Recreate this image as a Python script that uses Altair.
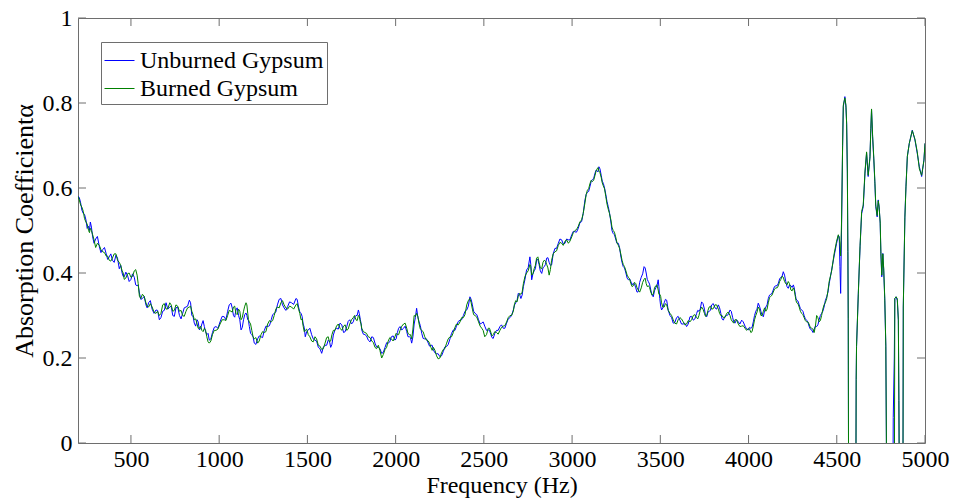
import altair as alt
import pandas as pd

FREQ = [
    200, 215, 230, 245, 260, 270, 283, 300, 321, 340,
    360, 377, 395, 415, 434, 450, 462, 480, 500, 519,
    535, 548, 565, 585, 600, 620, 642, 661, 680, 699,
    720, 737, 755, 775, 793, 812, 831, 845, 859, 875,
    888, 902, 916, 930, 944, 962, 982, 1005, 1029, 1048,
    1067, 1081, 1095, 1110, 1124, 1138, 1152, 1162, 1171, 1185,
    1199, 1218, 1237, 1256, 1275, 1295, 1312, 1330, 1350, 1368,
    1388, 1410, 1435, 1450, 1464, 1476, 1488, 1505, 1524, 1543,
    1562, 1581, 1600, 1618, 1632, 1647, 1665, 1685, 1705, 1723,
    1740, 1760, 1775, 1789, 1800, 1808, 1826, 1845, 1865, 1883,
    1902, 1921, 1940, 1958, 1976, 1996, 2010, 2025, 2045, 2063,
    2078, 2091, 2105, 2119, 2133, 2148, 2165, 2185, 2200, 2214,
    2232, 2251, 2270, 2289, 2308, 2327, 2345, 2365, 2384, 2403,
    2421, 2435, 2450, 2470, 2488, 2505, 2525, 2540, 2553, 2572,
    2591, 2610, 2629, 2648, 2667, 2681, 2695, 2710, 2724, 2742,
    2761, 2771, 2785, 2799, 2813, 2828, 2842, 2856, 2870, 2884,
    2903, 2922, 2941, 2960, 2979, 2998, 3016, 3035, 3054, 3073,
    3087, 3101, 3115, 3130, 3142, 3152, 3165, 3177, 3191, 3205,
    3220, 3233, 3247, 3262, 3276, 3290, 3305, 3319, 3333, 3347,
    3361, 3375, 3392, 3408, 3420, 3432, 3446, 3460, 3474, 3488,
    3497, 3507, 3522, 3536, 3555, 3573, 3592, 3611, 3630, 3649,
    3668, 3687, 3706, 3719, 3734, 3750, 3763, 3777, 3791, 3810,
    3829, 3843, 3857, 3876, 3895, 3910, 3923, 3942, 3961, 3980,
    3999, 4013, 4027, 4041, 4055, 4070, 4084, 4098, 4112, 4126,
    4140, 4155, 4169, 4183, 4197, 4211, 4225, 4240, 4254, 4265,
    4273, 4287, 4301, 4315, 4329, 4343, 4358, 4372, 4386, 4400,
    4414, 4428, 4443, 4457, 4471, 4485, 4499, 4509, 4514, 4518,
    4522, 4527, 4533, 4537, 4546, 4552, 4556, 4560, 4563, 4565,
    4567, 4585, 4606, 4610, 4612, 4622, 4632, 4641, 4650, 4660,
    4669, 4678, 4688, 4693, 4697, 4703, 4710, 4716, 4721, 4729,
    4735, 4740, 4746, 4750, 4755, 4761, 4766, 4772, 4778, 4782,
    4795, 4815, 4820, 4826, 4829, 4836, 4843, 4849, 4852, 4854,
    4865, 4874, 4877, 4886, 4892, 4900, 4911, 4928, 4943, 4956,
    4968, 4981, 4994, 5000,
]

UNBURNED = [
    .580, .565, .540, .525, .510, .520, .485, .480, .462, .455,
    .445, .438, .430, .442, .410, .400, .391, .395, .385, .390,
    .370, .353, .340, .325, .330, .315, .313, .290, .310, .330,
    .320, .300, .318, .300, .305, .320, .336, .300, .282, .290,
    .266, .280, .274, .255, .242, .260, .274, .285, .297, .310,
    .329, .300, .313, .300, .266, .290, .306, .290, .274, .255,
    .235, .245, .250, .265, .274, .290, .305, .325, .340, .318,
    .321, .330, .340, .320, .305, .280, .250, .266, .255, .242,
    .225, .211, .230, .242, .225, .254, .270, .282, .260, .274,
    .290, .285, .300, .313, .290, .266, .255, .242, .250, .235,
    .225, .211, .225, .235, .250, .242, .260, .274, .270, .262,
    .250, .235, .280, .317, .285, .258, .245, .235, .230, .219,
    .210, .203, .215, .227, .245, .266, .275, .289, .300, .313,
    .344, .325, .305, .290, .282, .275, .266, .255, .246, .265,
    .274, .270, .282, .295, .313, .330, .352, .340, .368, .407,
    .438, .384, .405, .431, .420, .399, .415, .435, .425, .419,
    .458, .470, .478, .470, .478, .490, .497, .505, .521, .572,
    .590, .603, .620, .635, .640, .650, .630, .611, .585, .556,
    .520, .493, .480, .470, .440, .415, .400, .384, .380, .376,
    .365, .356, .390, .415, .400, .380, .360, .344, .365, .384,
    .340, .313, .330, .336, .300, .282, .295, .289, .280, .274,
    .297, .289, .305, .310, .332, .315, .297, .310, .325, .318,
    .325, .305, .289, .300, .313, .295, .282, .285, .289, .275,
    .266, .270, .285, .310, .329, .310, .297, .320, .340, .350,
    .360, .370, .376, .390, .403, .380, .364, .370, .372, .350,
    .336, .325, .313, .300, .289, .275, .266, .268, .274, .290,
    .305, .320, .344, .375, .407, .440, .470, .489, .485, .415,
    .352, .501, .697, .791, .815, .790, .752, .635, .450, .293,
    -.100, -.500, -.400, .150, .227, .352, .462, .540, .556, .635,
    .682, .627, .674, .736, .784, .721, .666, .611, .556, .532,
    .572, .556, .517, .446, .391, .446, .407, .336, .227, -.050,
    -.500, -.400, .060, .200, .340, .344, .336, .289, .100, -.050,
    -.500, -.300, .320, .532, .603, .674, .705, .736, .713, .682,
    .650, .627, .666, .705,
]

BURNED = [
    .580, .560, .545, .520, .500, .505, .490, .460, .465, .450,
    .440, .430, .435, .445, .425, .405, .385, .398, .390, .405,
    .395, .345, .350, .330, .320, .320, .305, .300, .325, .315,
    .330, .310, .325, .310, .300, .310, .320, .310, .290, .280,
    .270, .265, .270, .250, .235, .255, .265, .280, .290, .300,
    .310, .320, .305, .315, .290, .310, .330, .305, .285, .265,
    .245, .235, .255, .260, .280, .285, .300, .320, .330, .325,
    .315, .320, .325, .315, .290, .275, .265, .255, .240, .250,
    .230, .220, .235, .250, .240, .265, .275, .270, .275, .265,
    .280, .295, .290, .300, .285, .270, .260, .250, .240, .225,
    .230, .200, .220, .240, .245, .250, .255, .265, .280, .270,
    .255, .245, .300, .305, .280, .265, .250, .240, .225, .225,
    .205, .200, .220, .235, .250, .260, .280, .285, .295, .325,
    .340, .315, .300, .285, .270, .250, .270, .260, .255, .260,
    .265, .275, .285, .300, .310, .335, .345, .350, .375, .400,
    .420, .395, .410, .435, .425, .410, .430, .420, .395, .430,
    .450, .465, .470, .475, .470, .485, .500, .510, .525, .565,
    .595, .610, .615, .630, .645, .640, .625, .605, .580, .550,
    .525, .500, .485, .465, .445, .420, .405, .390, .375, .370,
    .375, .360, .365, .385, .375, .370, .355, .350, .370, .360,
    .350, .330, .320, .325, .305, .290, .280, .295, .285, .280,
    .285, .300, .295, .300, .320, .305, .300, .320, .315, .325,
    .315, .300, .295, .305, .300, .285, .290, .280, .275, .270,
    .270, .260, .275, .300, .320, .300, .310, .310, .330, .345,
    .355, .365, .370, .385, .390, .375, .380, .360, .365, .345,
    .330, .320, .305, .295, .285, .280, .270, .260, .300, .285,
    .300, .325, .340, .380, .405, .445, .475, .490, .480, .470,
    .440, .520, .700, .795, .812, .795, .750, .640, .450, .290,
    -.100, -.500, -.400, .150, .227, .350, .465, .545, .560, .640,
    .685, .630, .670, .740, .786, .725, .670, .615, .560, .535,
    .570, .555, .520, .450, .395, .445, .410, .340, .230, -.050,
    -.500, -.400, -.300, -.200, .340, .344, .340, .290, .100, -.050,
    -.500, -.300, .320, .530, .600, .675, .705, .735, .715, .685,
    .645, .630, .665, .705,
]

# extra in-between samples read from the fine ripple of the noisy part
FREQ_MID = [
    207, 222, 237, 252, 265, 276, 291, 310, 330, 350,
    368, 386, 405, 424, 442, 456, 471, 490, 509, 527,
    541, 556, 575, 592, 610, 631, 651, 670, 689, 709,
    728, 746, 765, 784, 802, 821, 838, 852, 867, 881,
    895, 909, 923, 937, 953, 972, 993, 1017, 1038, 1057,
    1074, 1088, 1102, 1117, 1131, 1145, 1157, 1166, 1178, 1192,
    1208, 1227, 1246, 1265, 1285, 1303, 1321, 1340, 1359, 1378,
    1399, 1422, 1442, 1457, 1470, 1482, 1496, 1514, 1533, 1552,
    1571, 1590, 1609, 1625, 1639, 1656, 1675, 1695, 1714, 1731,
    1750, 1767, 1782, 1794, 1804, 1817, 1835, 1855, 1874, 1892,
    1911, 1930, 1949, 1967, 1986, 2003, 2017, 2035, 2054, 2070,
    2084, 2098, 2112, 2126, 2140, 2156, 2175, 2192, 2207, 2223,
    2241, 2260, 2279, 2298, 2317, 2336, 2355, 2374, 2393, 2412,
    2428, 2442, 2460, 2479, 2496, 2515, 2532, 2546, 2562, 2581,
    2600, 2619, 2638, 2657, 2674, 2688, 2702, 2717, 2733, 2751,
    2766, 2778, 2792, 2806, 2820, 2835, 2849, 2863, 2877, 2893,
    2912, 2931, 2950, 2969, 2988, 3007, 3025, 3044, 3063, 3080,
    3094, 3108, 3122, 3136, 3147, 3158, 3171, 3184, 3198, 3212,
    3226, 3240, 3254, 3269, 3283, 3297, 3312, 3326, 3340, 3354,
    3368, 3383, 3400, 3414, 3426, 3439, 3453, 3467, 3481, 3492,
    3502, 3514, 3529, 3545, 3564, 3582, 3601, 3620, 3639, 3658,
    3677, 3696, 3712, 3726, 3742, 3756, 3770, 3784, 3800, 3819,
    3836, 3850, 3866, 3885, 3902, 3916, 3932, 3951, 3970, 3989,
    4006, 4020, 4034, 4048, 4062, 4077, 4091, 4105, 4119, 4133,
    4147, 4162, 4176, 4190, 4204, 4218, 4232, 4247, 4259, 4269,
    4280, 4294, 4308, 4322, 4336, 4350, 4365, 4379, 4393, 4407,
    4421, 4435, 4450,
]

UNBURNED_MID = [
    .578, .548, .538, .505, .500, .508, .470, .486, .448, .460,
    .432, .445, .425, .435, .418, .392, .402, .380, .398, .372,
    .372, .338, .345, .318, .335, .305, .312, .295, .312, .315,
    .322, .298, .320, .292, .318, .322, .330, .298, .275, .285,
    .270, .288, .262, .258, .245, .272, .270, .298, .290, .325,
    .318, .296, .318, .290, .272, .302, .300, .288, .258, .250,
    .232, .252, .248, .275, .276, .302, .308, .338, .325, .312,
    .332, .326, .338, .308, .298, .272, .262, .270, .245, .240,
    .222, .225, .230, .240, .232, .266, .268, .278, .262, .286,
    .280, .296, .300, .305, .282, .256, .252, .238, .248, .226,
    .222, .213, .236, .238, .252, .245, .270, .266, .275, .250,
    .248, .250, .295, .296, .276, .246, .245, .228, .230, .212,
    .210, .205, .226, .232, .258, .265, .286, .290, .310, .322,
    .338, .310, .302, .280, .285, .265, .265, .248, .258, .265,
    .278, .270, .292, .300, .325, .335, .350, .348, .385, .412,
    .420, .398, .410, .432, .405, .412, .420, .436, .418, .445,
    .458, .480, .468, .480, .478, .498, .496, .518, .540, .585,
    .592, .615, .622, .642, .638, .645, .616, .600, .568, .542,
    .500, .490, .470, .460, .425, .412, .388, .386, .372, .374,
    .355, .378, .398, .412, .385, .374, .348, .358, .370, .368,
    .322, .318, .338, .312, .295, .283, .298, .280, .282, .280,
    .298, .292, .312, .315, .328, .300, .308, .312, .328, .315,
    .318, .292, .298, .302, .310, .285, .290, .280, .285, .268,
    .272, .272, .300, .315, .322, .300, .312, .325, .348, .352,
    .368, .370, .386, .392, .395, .368, .372, .366, .365, .340,
    .334, .316, .310, .292, .285, .268, .260, .275, .278, .300,
    .310, .335, .355,
]

BURNED_MID = [
    .572, .555, .528, .515, .495, .500, .478, .470, .455, .448,
    .440, .428, .445, .430, .418, .400, .388, .400, .392, .408,
    .375, .340, .345, .322, .328, .308, .310, .305, .328, .316,
    .325, .312, .322, .312, .298, .318, .322, .302, .292, .270,
    .275, .262, .265, .238, .240, .265, .268, .290, .288, .312,
    .308, .322, .302, .310, .295, .322, .325, .290, .280, .250,
    .248, .240, .262, .262, .288, .288, .315, .318, .335, .318,
    .322, .315, .328, .305, .292, .262, .268, .250, .238, .245,
    .228, .222, .248, .238, .255, .265, .280, .265, .278, .268,
    .290, .300, .288, .298, .280, .262, .258, .248, .236, .222,
    .218, .208, .225, .248, .240, .258, .255, .275, .282, .258,
    .255, .268, .298, .298, .268, .262, .242, .235, .218, .218,
    .198, .212, .222, .245, .250, .272, .278, .295, .302, .335,
    .330, .302, .296, .275, .265, .255, .270, .252, .262, .256,
    .272, .276, .295, .300, .328, .332, .352, .355, .392, .405,
    .415, .398, .418, .438, .412, .425, .428, .412, .408, .445,
    .452, .472, .465, .478, .475, .495, .502, .520, .540, .585,
    .598, .618, .618, .640, .648, .636, .612, .598, .562, .540,
    .508, .496, .472, .458, .430, .415, .395, .386, .368, .378,
    .365, .355, .378, .388, .368, .366, .348, .365, .372, .350,
    .345, .320, .328, .312, .300, .282, .290, .292, .278, .288,
    .290, .302, .292, .312, .315, .298, .312, .322, .316, .325,
    .305, .300, .295, .308, .290, .282, .290, .274, .276, .265,
    .268, .262, .290, .308, .315, .300, .318, .315, .342, .348,
    .362, .365, .380, .392, .380, .372, .375, .358, .360, .335,
    .328, .310, .302, .288, .285, .272, .268, .275, .295, .288,
    .315, .330, .358,
]

SERIES = ["Unburned Gypsum", "Burned Gypsum"]
COLORS = ["#0000ff", "#008000"]
X_TICKS = [500, 1000, 1500, 2000, 2500, 3000, 3500, 4000, 4500, 5000]
Y_TICKS = [0, 0.2, 0.4, 0.6, 0.8, 1.0]

assert len(FREQ) == len(UNBURNED) == len(BURNED)
assert len(FREQ_MID) == len(UNBURNED_MID) == len(BURNED_MID)

df = pd.concat([
    pd.DataFrame({"f": FREQ + FREQ_MID, "a": UNBURNED + UNBURNED_MID, "s": SERIES[0]}),
    pd.DataFrame({"f": FREQ + FREQ_MID, "a": BURNED + BURNED_MID, "s": SERIES[1]}),
]).sort_values(["s", "f"]).reset_index(drop=True)

W, H = 847, 425
FONT = "Liberation Serif"
FRAME = "#6e6e6e"

xs = alt.Scale(domain=[200, 5000], nice=False, zero=False)
ys = alt.Scale(domain=[0, 1], nice=False, zero=False)
cs = alt.Scale(domain=SERIES, range=COLORS)

x_axis = alt.Axis(values=X_TICKS, format="d", tickSize=0, domain=False, grid=False,
                  labelFlush=False, labelOverlap=False,
                  labelPadding=4, labelFontSize=24, labelFont=FONT, labelColor="black",
                  title="Frequency (Hz)", titleFontSize=24, titleFont=FONT,
                  titleFontWeight="normal", titleColor="black", titlePadding=2)
y_axis = alt.Axis(values=Y_TICKS, format="~g", tickSize=0, domain=False, grid=False,
                  labelFlush=False, labelOverlap=False,
                  labelPadding=6, labelFontSize=24, labelFont=FONT, labelColor="black",
                  title="Absorption Coefficientα", titleFontSize=26, titleFont=FONT,
                  titleFontWeight="normal", titleColor="black", titlePadding=5)

legend = alt.Legend(title=None, orient="none", legendX=23, legendY=24,
                    fillColor="white", strokeColor=FRAME, padding=3,
                    symbolType="stroke", symbolSize=900, symbolStrokeWidth=1,
                    labelFontSize=24, labelFont=FONT, labelColor="black",
                    labelOffset=5, rowPadding=0, labelLimit=0)

X = alt.X("f:Q", scale=xs, axis=x_axis)
Y = alt.Y("a:Q", scale=ys, axis=y_axis)


def series_layer(name):
    return alt.Chart(df).transform_filter(alt.datum.s == name).mark_line(
        clip=True, strokeWidth=1
    ).encode(
        x=X, y=Y,
        color=alt.Color("s:N", scale=cs, legend=legend),
    )


xt = pd.DataFrame({"f": X_TICKS})
yt = pd.DataFrame({"a": Y_TICKS})

tick_b = alt.Chart(xt).mark_rule(color=FRAME).encode(
    x=X, y=alt.value(H), y2=alt.value(H - 8))
tick_t = alt.Chart(xt).mark_rule(color=FRAME).encode(
    x=X, y=alt.value(0), y2=alt.value(8))
tick_l = alt.Chart(yt).mark_rule(color=FRAME).encode(
    y=Y, x=alt.value(0), x2=alt.value(8))
tick_r = alt.Chart(yt).mark_rule(color=FRAME).encode(
    y=Y, x=alt.value(W), x2=alt.value(W - 8))

chart = alt.layer(
    series_layer(SERIES[0]), series_layer(SERIES[1]),
    tick_b, tick_t, tick_l, tick_r,
).properties(
    width=W, height=H,
    autosize=alt.AutoSizeParams(type="none"),
    padding={"left": 78, "top": 18, "right": 31, "bottom": 60},
    background="white",
).configure_view(stroke=FRAME, strokeWidth=1)

chart.save("out.html", embed_options={"renderer": "svg", "actions": False})
